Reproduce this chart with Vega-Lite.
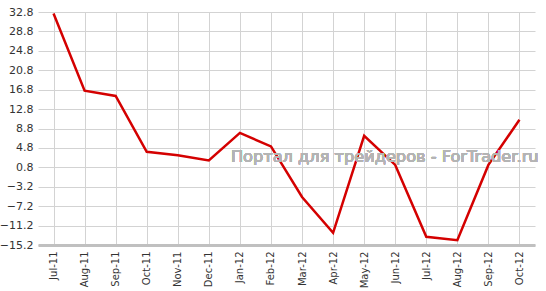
{
  "$schema": "https://vega.github.io/schema/vega-lite/v6.json",
  "width": 497,
  "height": 233,
  "autosize": {"type": "none"},
  "padding": {"left": 38, "top": 12, "right": 11, "bottom": 46},
  "background": "white",
  "config": {"view": {"stroke": null}, "font": "DejaVu Sans"},
  "data": {"values": [
    {"m": "Jul-11", "v": 32.5},
    {"m": "Aug-11", "v": 16.6},
    {"m": "Sep-11", "v": 15.5},
    {"m": "Oct-11", "v": 4.0},
    {"m": "Nov-11", "v": 3.3},
    {"m": "Dec-11", "v": 2.2},
    {"m": "Jan-12", "v": 7.9},
    {"m": "Feb-12", "v": 5.1},
    {"m": "Mar-12", "v": -5.3},
    {"m": "Apr-12", "v": -12.7},
    {"m": "May-12", "v": 7.3},
    {"m": "Jun-12", "v": 1.3},
    {"m": "Jul-12", "v": -13.5},
    {"m": "Aug-12", "v": -14.2},
    {"m": "Sep-12", "v": 1.3},
    {"m": "Oct-12", "v": 10.6}
  ]},
  "layer": [
    {
      "mark": {"type": "line", "color": "#d40000", "strokeWidth": 2.5},
      "encoding": {
        "x": {"field": "m", "type": "ordinal", "sort": null,
          "scale": {"type": "point", "padding": 0.5},
          "axis": {"title": null, "labelAngle": -90, "labelAlign": "right", "labelBaseline": "middle",
            "labelFontSize": 10, "labelColor": "#333", "labelPadding": 6, "ticks": false, "labelOverlap": false,
            "grid": true, "gridColor": "#d3d3d3", "domainColor": "#c0c0c0", "domainWidth": 3}},
        "y": {"field": "v", "type": "quantitative",
          "scale": {"domain": [-15.2, 32.8], "nice": false, "zero": false},
          "axis": {"title": null, "values": [-15.2, -11.2, -7.2, -3.2, 0.8, 4.8, 8.8, 12.8, 16.8, 20.8, 24.8, 28.8, 32.8],
            "tickCount": 13,
            "format": ".1f", "labelFontSize": 11, "labelColor": "#333", "ticks": false, "labelPadding": 5,
            "labelOverlap": false, "labelBound": false, "labelFlush": false,
            "domain": false, "grid": true, "gridColor": "#d3d3d3"}}
      }
    },
    {
      "mark": {"type": "text", "text": "Портал для трейдеров - ForTrader.ru", "align": "left", "baseline": "middle",
        "dx": -9, "fontSize": 16.2, "color": "#b4b4b4"},
      "encoding": {
        "x": {"datum": "Jan-12", "type": "ordinal"},
        "y": {"datum": 2.9, "type": "quantitative"}
      }
    }
  ]
}
